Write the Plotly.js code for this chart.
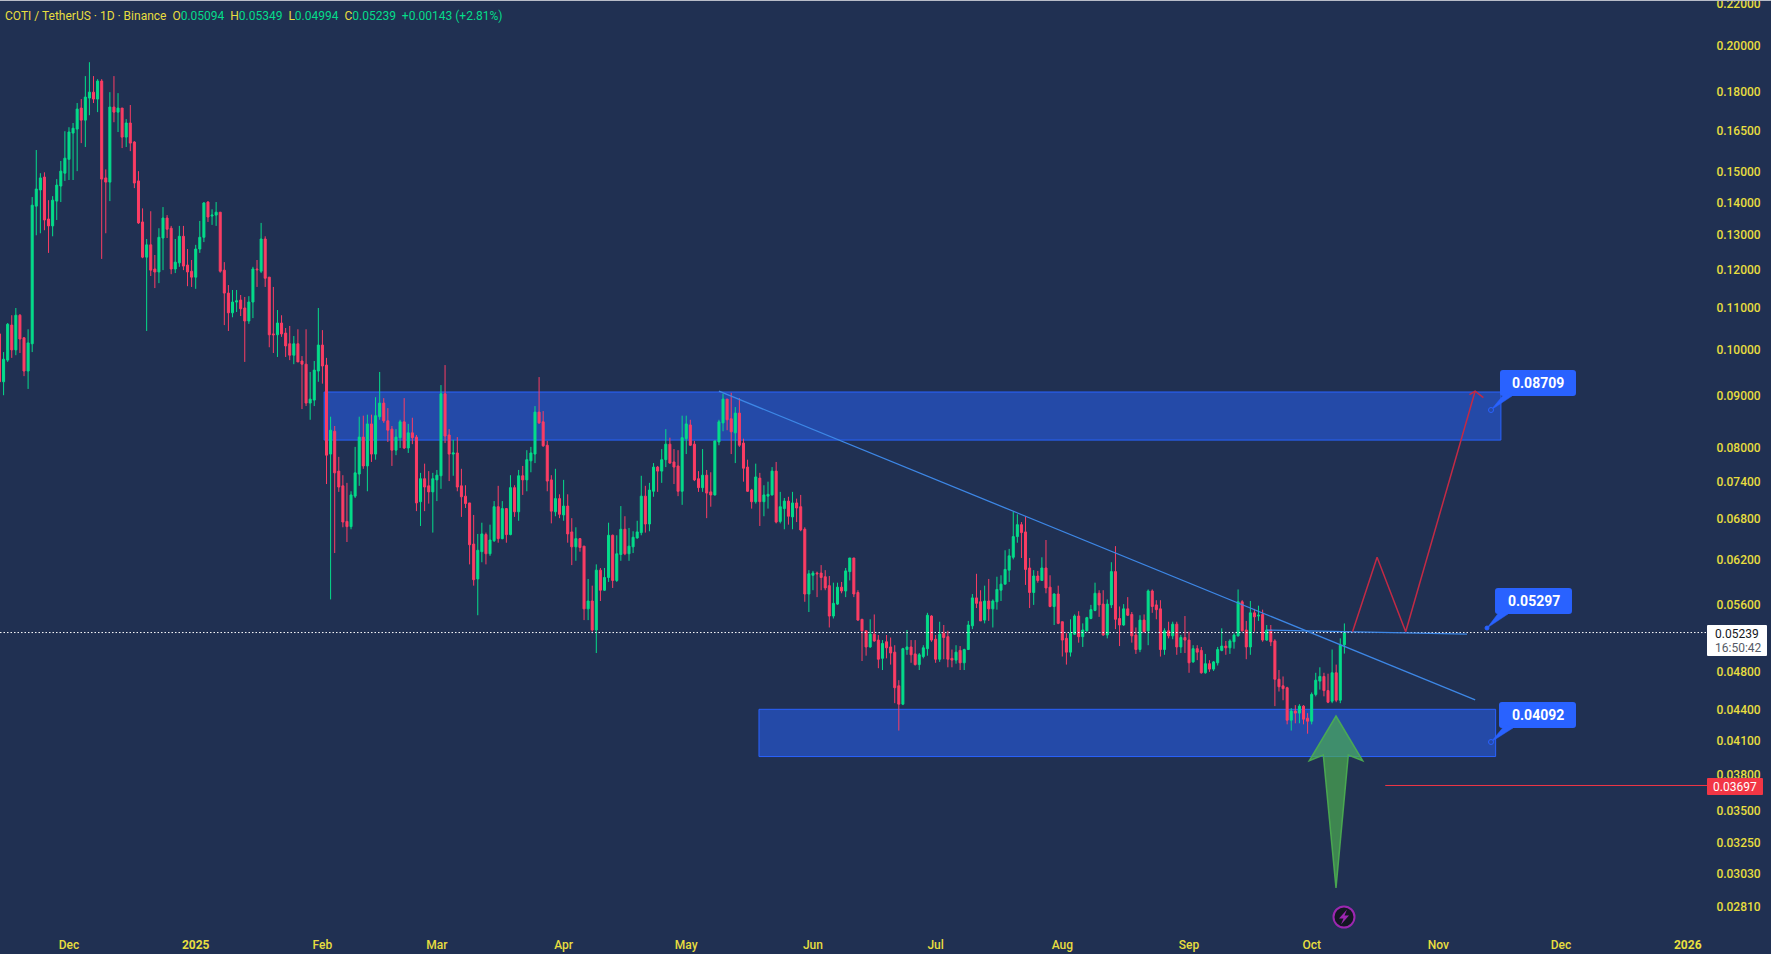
<!DOCTYPE html>
<html>
<head>
<meta charset="utf-8">
<title>COTI / TetherUS</title>
<script src="https://cdn.plot.ly/plotly-3.0.1.min.js"></script>
<style>
html, body { margin: 0; padding: 0; background: #203052; overflow: hidden; }
#graph { width: 1771px; height: 954px; }
</style>
</head>
<body>
<div id="graph"></div>
<script>
// daily candles, first one is 14 Nov 2024
var firstDay = Date.UTC(2024, 10, 14);

var opens = [
.1035,.0928,.0975,.1056,.0998,.1080,.1026,.0951,.1012,.1385,
.1437,.1480,.1345,.1324,.1401,.1450,.1493,.1541,.1636,.1651,
.1732,.1685,.1772,.1796,.1768,.1842,.1477,.1463,.1736,.1716,
.1732,.1621,.1674,.1603,.1467,.1336,.1233,.1268,.1200,.1192,
.1288,.1348,.1317,.1200,.1217,.1293,.1211,.1194,.1178,.1256,
.1290,.1398,.1354,.1357,.1366,.1197,.1136,.1086,.1113,.1118,
.1098,.1066,.1113,.1200,.1194,.1285,.1178,.1035,.1033,.1061,
.1037,.1012,.0986,.1012,.0973,.0966,.0884,.0890,.0951,.1009,
.0964,.0787,.0829,.0757,.0732,.0675,.0667,.0715,.0752,.0818,
.0766,.0843,.0787,.0857,.0884,.0849,.0833,.0794,.0817,.0847,
.0798,.0826,.0818,.0706,.0744,.0732,.0722,.0742,.0749,.0903,
.0822,.0787,.0789,.0732,.0715,.0704,.0641,.0592,.0630,.0655,
.0627,.0646,.0698,.0649,.0695,.0655,.0729,.0690,.0749,.0742,
.0775,.0787,.0866,.0847,.0803,.0742,.0690,.0711,.0685,.0699,
.0659,.0637,.0649,.0638,.0553,.0563,.0527,.0604,.0577,.0594,
.0654,.0590,.0626,.0663,.0627,.0637,.0650,.0658,.0715,.0671,
.0723,.0764,.0757,.0777,.0805,.0773,.0766,.0723,.0815,.0841,
.0805,.0744,.0729,.0750,.0722,.0717,.0809,.0845,.0892,.0853,
.0826,.0864,.0807,.0764,.0725,.0706,.0745,.0706,.0715,.0717,
.0757,.0675,.0695,.0707,.0682,.0704,.0698,.0663,.0572,.0597,
.0600,.0600,.0595,.0583,.0544,.0559,.0581,.0576,.0602,.0621,
.0574,.0540,.0526,.0507,.0522,.0515,.0494,.0513,.0507,.0501,
.0464,.0445,.0504,.0507,.0499,.0487,.0496,.0505,.0544,.0516,
.0493,.0523,.0519,.0494,.0492,.0503,.0489,.0504,.0532,.0567,
.0562,.0539,.0563,.0553,.0562,.0577,.0585,.0604,.0622,.0652,
.0670,.0659,.0607,.0574,.0596,.0590,.0607,.0581,.0556,.0572,
.0537,.0517,.0501,.0522,.0544,.0519,.0526,.0541,.0551,.0573,
.0559,.0521,.0558,.0602,.0541,.0533,.0553,.0546,.0521,.0504,
.0539,.0526,.0576,.0558,.0553,.0504,.0526,.0520,.0534,.0507,
.0518,.0515,.0490,.0505,.0503,.0478,.0488,.0482,.0489,.0503,
.0508,.0506,.0513,.0520,.0562,.0527,.0507,.0548,.0544,.0546,
.0515,.0527,.0514,.0471,.0464,.0462,.0429,.0438,.0436,.0443,
.0431,.0428,.0455,.0469,.0474,.0459,.0448,.0478,.0449,.05094];

var highs = [
.1044,.0993,.1061,.1080,.1098,.1083,.1026,.1046,.1414,.1574,
.1493,.1496,.1404,.1417,.1473,.1535,.1643,.1658,.1674,.1752,
.1768,.1863,.1923,.1863,.1850,.1850,.1506,.1796,.1863,.1792,
.1732,.1689,.1744,.1606,.1500,.1378,.1285,.1369,.1239,.1317,
.1382,.1357,.1324,.1285,.1324,.1324,.1256,.1225,.1268,.1339,
.1398,.1401,.1375,.1398,.1366,.1219,.1157,.1144,.1144,.1131,
.1126,.1128,.1206,.1225,.1333,.1293,.1178,.1152,.1093,.1080,
.1049,.1054,.1030,.1046,.0984,.1046,.0949,.0973,.1098,.1044,
.0980,.0857,.0839,.0782,.0750,.0737,.0723,.0800,.0857,.0859,
.0861,.0861,.0896,.0949,.0894,.0874,.0839,.0833,.0851,.0894,
.0843,.0855,.0822,.0754,.0770,.0757,.0754,.0759,.0921,.0964,
.0833,.0813,.0818,.0761,.0733,.0704,.0685,.0656,.0673,.0658,
.0670,.0707,.0732,.0707,.0696,.0750,.0733,.0759,.0766,.0794,
.0800,.0878,.0938,.0868,.0811,.0750,.0761,.0718,.0742,.0718,
.0680,.0666,.0650,.0638,.0592,.0583,.0612,.0607,.0607,.0673,
.0655,.0654,.0699,.0683,.0665,.0660,.0676,.0749,.0732,.0737,
.0771,.0766,.0796,.0833,.0817,.0796,.0794,.0859,.0859,.0851,
.0811,.0757,.0796,.0759,.0755,.0811,.0851,.0903,.0892,.0905,
.0876,.0894,.0815,.0777,.0727,.0770,.0754,.0733,.0739,.0764,
.0773,.0722,.0712,.0714,.0722,.0711,.0717,.0666,.0604,.0603,
.0602,.0611,.0604,.0596,.0587,.0587,.0588,.0607,.0621,.0621,
.0577,.0540,.0526,.0540,.0546,.0521,.0515,.0521,.0518,.0509,
.0470,.0506,.0527,.0515,.0515,.0500,.0509,.0548,.0545,.0521,
.0537,.0533,.0526,.0504,.0509,.0508,.0505,.0538,.0572,.0599,
.0577,.0583,.0592,.0565,.0595,.0597,.0632,.0634,.0690,.0686,
.0674,.0683,.0621,.0604,.0603,.0622,.0647,.0597,.0573,.0583,
.0537,.0523,.0540,.0546,.0550,.0535,.0543,.0558,.0587,.0577,
.0577,.0565,.0615,.0638,.0556,.0559,.0568,.0549,.0530,.0545,
.0546,.0578,.0578,.0564,.0564,.0529,.0537,.0537,.0537,.0521,
.0544,.0525,.0509,.0509,.0507,.0499,.0492,.0491,.0507,.0529,
.0514,.0516,.0523,.0578,.0564,.0538,.0563,.0553,.0557,.0552,
.0533,.0533,.0516,.0481,.0474,.0463,.0441,.0444,.0445,.0444,
.0436,.0457,.0478,.0484,.0478,.0477,.0504,.0487,.0517,.05349];

var lows = [
.0921,.0900,.0971,.0980,.0986,.0991,.0940,.0913,.0993,.1296,
.1302,.1311,.1245,.1293,.1342,.1398,.1467,.1470,.1470,.1500,
.1599,.1585,.1704,.1752,.1716,.1228,.1302,.1401,.1677,.1640,
.1581,.1585,.1570,.1443,.1330,.1230,.1042,.1181,.1149,.1162,
.1197,.1288,.1186,.1189,.1206,.1197,.1154,.1152,.1147,.1245,
.1276,.1336,.1327,.1324,.1190,.1056,.1042,.1075,.1088,.1078,
.0971,.1059,.1073,.1152,.1189,.1152,.1004,.0991,.0982,.1028,
.0982,.0975,.0966,.0971,.0872,.0878,.0851,.0878,.0928,.0924,
.0735,.0565,.0628,.0722,.0666,.0644,.0663,.0712,.0732,.0761,
.0723,.0773,.0777,.0851,.0845,.0809,.0766,.0785,.0798,.0796,
.0789,.0805,.0691,.0668,.0691,.0703,.0658,.0707,.0727,.0807,
.0740,.0749,.0723,.0682,.0696,.0612,.0583,.0545,.0615,.0612,
.0624,.0644,.0643,.0648,.0643,.0654,.0682,.0676,.0717,.0723,
.0755,.0771,.0843,.0800,.0723,.0672,.0683,.0680,.0676,.0643,
.0611,.0617,.0630,.0539,.0539,.0525,.0500,.0563,.0576,.0588,
.0580,.0588,.0617,.0625,.0617,.0628,.0649,.0654,.0658,.0660,
.0714,.0722,.0737,.0764,.0770,.0735,.0715,.0701,.0787,.0802,
.0740,.0722,.0722,.0680,.0698,.0716,.0803,.0829,.0831,.0787,
.0771,.0800,.0739,.0722,.0695,.0703,.0668,.0683,.0695,.0716,
.0672,.0672,.0663,.0670,.0663,.0674,.0660,.0562,.0549,.0577,
.0568,.0577,.0577,.0530,.0541,.0558,.0573,.0568,.0590,.0568,
.0538,.0491,.0497,.0506,.0513,.0483,.0481,.0494,.0487,.0446,
.0419,.0444,.0498,.0489,.0486,.0481,.0494,.0497,.0513,.0489,
.0490,.0493,.0484,.0484,.0488,.0481,.0481,.0504,.0528,.0554,
.0538,.0535,.0538,.0530,.0552,.0563,.0585,.0588,.0619,.0643,
.0621,.0584,.0554,.0558,.0587,.0590,.0573,.0555,.0533,.0534,
.0496,.0487,.0496,.0521,.0512,.0507,.0525,.0540,.0550,.0543,
.0520,.0517,.0554,.0528,.0508,.0532,.0544,.0512,.0499,.0501,
.0524,.0509,.0548,.0540,.0496,.0498,.0517,.0516,.0498,.0500,
.0500,.0478,.0489,.0492,.0477,.0477,.0479,.0480,.0486,.0502,
.0498,.0499,.0505,.0519,.0525,.0493,.0498,.0525,.0538,.0513,
.0514,.0508,.0443,.0458,.0449,.0425,.0419,.0426,.0426,.0425,
.0416,.0425,.0453,.0460,.0453,.0446,.0446,.0447,.0446,.04994];

var closes = [
.0928,.0977,.1058,.0998,.1080,.1023,.0951,.1014,.1388,.1440,
.1477,.1342,.1324,.1404,.1453,.1500,.1545,.1640,.1654,.1728,
.1685,.1776,.1796,.1768,.1842,.1473,.1463,.1736,.1716,.1732,
.1621,.1674,.1599,.1460,.1333,.1233,.1268,.1197,.1192,.1290,
.1348,.1314,.1200,.1219,.1293,.1208,.1192,.1178,.1256,.1290,
.1395,.1351,.1357,.1366,.1194,.1136,.1086,.1113,.1116,.1096,
.1066,.1113,.1200,.1198,.1285,.1175,.1033,.1033,.1061,.1035,
.1007,.0986,.1012,.0971,.0966,.0884,.0892,.0953,.1009,.0962,
.0785,.0831,.0754,.0730,.0674,.0667,.0717,.0754,.0818,.0766,
.0843,.0787,.0859,.0884,.0849,.0831,.0794,.0818,.0847,.0798,
.0826,.0817,.0704,.0744,.0730,.0722,.0744,.0750,.0903,.0820,
.0787,.0789,.0730,.0714,.0703,.0640,.0591,.0632,.0656,.0627,
.0647,.0698,.0649,.0695,.0655,.0729,.0690,.0749,.0742,.0777,
.0789,.0866,.0845,.0802,.0740,.0691,.0711,.0686,.0699,.0656,
.0637,.0649,.0636,.0553,.0563,.0527,.0604,.0577,.0594,.0654,
.0590,.0627,.0663,.0627,.0638,.0651,.0659,.0715,.0671,.0725,
.0764,.0757,.0777,.0805,.0771,.0764,.0723,.0817,.0843,.0803,
.0742,.0729,.0750,.0720,.0717,.0811,.0847,.0892,.0851,.0828,
.0864,.0803,.0762,.0723,.0706,.0747,.0706,.0717,.0718,.0757,
.0674,.0698,.0707,.0683,.0704,.0696,.0662,.0572,.0599,.0600,
.0599,.0594,.0580,.0544,.0560,.0581,.0576,.0603,.0621,.0572,
.0539,.0526,.0507,.0522,.0514,.0493,.0511,.0506,.0500,.0462,
.0445,.0505,.0507,.0498,.0487,.0498,.0506,.0545,.0515,.0493,
.0522,.0518,.0493,.0492,.0501,.0489,.0504,.0533,.0567,.0560,
.0538,.0563,.0553,.0563,.0578,.0585,.0605,.0624,.0652,.0670,
.0658,.0605,.0574,.0596,.0590,.0607,.0580,.0556,.0572,.0535,
.0515,.0501,.0523,.0544,.0519,.0527,.0542,.0552,.0573,.0558,
.0521,.0559,.0602,.0540,.0533,.0553,.0545,.0520,.0504,.0539,
.0525,.0576,.0556,.0552,.0504,.0526,.0520,.0534,.0507,.0518,
.0515,.0489,.0505,.0501,.0478,.0488,.0482,.0490,.0504,.0508,
.0506,.0514,.0521,.0562,.0526,.0507,.0548,.0543,.0545,.0515,
.0527,.0513,.0471,.0463,.0461,.0429,.0438,.0436,.0443,.0430,
.0428,.0455,.0470,.0474,.0459,.0447,.0478,.0449,.0509,.05239];

// axis labels
var priceTicks = [0.22, 0.20, 0.18, 0.165, 0.15, 0.14, 0.13, 0.12, 0.11, 0.10, 0.09, 0.08, 0.074, 0.068, 0.062, 0.056, 0.048, 0.044, 0.041, 0.038, 0.035, 0.0325, 0.0303, 0.0281];
var dateTicks = ['2024-12-01', '2025-01-01', '2025-02-01', '2025-03-01', '2025-04-01', '2025-05-01', '2025-06-01', '2025-07-01', '2025-08-01', '2025-09-01', '2025-10-01', '2025-11-01', '2025-12-01', '2026-01-01'];
var dateLabels = ['Dec', '<b>2025</b>', 'Feb', 'Mar', 'Apr', 'May', 'Jun', 'Jul', 'Aug', 'Sep', 'Oct', 'Nov', 'Dec', '<b>2026</b>'];

// drawings on the chart
var lastPrice = 0.05239;
var stopPrice = 0.03697;
var trendDates = ['2025-05-09', '2025-11-10'];
var trendPrices = [0.09086, 0.04494];
var flatDates = ['2025-09-20', '2025-11-08'];
var flatPrices = [0.05268, 0.0522];
var pathDates = ['2025-10-11', '2025-10-17', '2025-10-24', '2025-11-10'];
var pathPrices = [0.05248, 0.0622, 0.05248, 0.09086];
var headDates = ['2025-11-08 14:00', '2025-11-10', '2025-11-12'];
var headPrices = [0.0901, 0.09086, 0.0895];
var upperZone = {x0: '2025-02-01 10:00', x1: '2025-11-16 07:00', top: 0.09066, bottom: 0.08125};
var lowerZone = {x0: '2025-05-18 19:00', x1: '2025-11-15', top: 0.04398, bottom: 0.03949};
var rangeStart = '2024-11-14 03:00';
var rangeEnd = '2026-01-05 17:00';

var bgColor = '#203052';
var upColor = '#05DC8A';
var downColor = '#FB3D64';
var yellow = '#E8DE3F';
var blue = '#2962FF';

var dates = opens.map(function(v, i) {
    return new Date(firstDay + i * 86400000).toISOString().slice(0, 10);
});

// plot area is 1707 x 925 px, helpers go from page pixels to paper fractions
var plotW = 1707;
var plotH = 925;
function px(x) { return x / plotW; }
function py(y) { return 1 - y / plotH; }

// closed polygon in page pixels
function polygon(points) {
    return points.map(function(p, i) {
        return (i === 0 ? 'M' : 'L') + px(p[0]).toFixed(5) + ',' + py(p[1]).toFixed(5);
    }).join(' ') + ' Z';
}

// rounded rectangle in page pixels
function rounded(x0, y0, x1, y1, r) {
    function pt(x, y) { return px(x).toFixed(5) + ',' + py(y).toFixed(5); }
    return 'M' + pt(x0 + r, y0) + ' L' + pt(x1 - r, y0) + ' Q' + pt(x1, y0) + ' ' + pt(x1, y0 + r) +
        ' L' + pt(x1, y1 - r) + ' Q' + pt(x1, y1) + ' ' + pt(x1 - r, y1) +
        ' L' + pt(x0 + r, y1) + ' Q' + pt(x0, y1) + ' ' + pt(x0, y1 - r) +
        ' L' + pt(x0, y0 + r) + ' Q' + pt(x0, y0) + ' ' + pt(x0 + r, y0) + ' Z';
}

function pathShape(path, fill, lineColor, lineWidth) {
    return {type: 'path', xref: 'paper', yref: 'paper', path: path, fillcolor: fill, layer: 'above',
        line: {color: lineColor, width: lineWidth}};
}

function dotShape(x, y, r, fill, lineColor, lineWidth) {
    return {type: 'circle', xref: 'paper', yref: 'paper', x0: px(x - r), x1: px(x + r), y0: py(y + r), y1: py(y - r),
        fillcolor: fill, layer: 'above', line: {color: lineColor, width: lineWidth || 1}};
}

function zoneShape(z) {
    return {type: 'rect', xref: 'x', yref: 'y', x0: z.x0, x1: z.x1, y0: z.bottom, y1: z.top, layer: 'below',
        fillcolor: '#244AA8', line: {color: blue, width: 1}};
}

function textNote(text, x, y, size, color, anchor) {
    return {xref: 'paper', yref: 'paper', x: px(x), y: py(y), text: text, showarrow: false,
        xanchor: anchor || 'center', yanchor: 'middle', borderpad: 0,
        font: {family: 'Roboto, sans-serif', size: size, color: color}};
}

var shapes = [
    zoneShape(upperZone),
    zoneShape(lowerZone),
    // thin light edge along the top of the screenshot
    {type: 'line', xref: 'paper', yref: 'paper', x0: 0, x1: 1771 / plotW, y0: py(0.5), y1: py(0.5), line: {color: '#B8BCC8', width: 1}},
    // green arrow
    pathShape(polygon([[1336, 716], [1362.7, 760.7], [1348.3, 755], [1336, 888], [1323.3, 755], [1309.3, 760.7]]), 'rgba(76,175,80,0.68)', 'rgba(76,175,80,0.9)', 1.5),
    // callouts
    pathShape(rounded(1500, 370, 1576, 396, 3), blue, blue, 0),
    pathShape(polygon([[1491, 410], [1505, 393], [1512, 396]]), blue, blue, 0.5),
    dotShape(1491, 410, 2.5, '#244AA8', blue),
    pathShape(rounded(1495, 588, 1572, 614, 3), blue, blue, 0),
    pathShape(polygon([[1487, 628], [1500, 611], [1508, 614]]), blue, blue, 0.5),
    dotShape(1487, 628, 2, blue, blue),
    pathShape(rounded(1499, 702, 1576, 728, 3), blue, blue, 0),
    pathShape(polygon([[1491, 742], [1505, 725], [1513, 728]]), blue, blue, 0.5),
    dotShape(1491, 742, 2.5, '#244AA8', blue),
    // price tags on the axis
    pathShape(rounded(1707, 625, 1767, 656, 1), '#FFFFFF', '#FFFFFF', 0),
    pathShape(rounded(1707, 778, 1763, 795, 1), '#F23645', '#F23645', 0),
    // lightning mark
    dotShape(1344, 917, 10.5, '#131722', '#9C27B0', 2),
    pathShape(polygon([[1347, 909.5], [1339, 918.5], [1343.5, 918.5], [1341, 924.5], [1349, 915.5], [1344.5, 915.5]]), '#9C27B0', '#9C27B0', 0)
];

var header = '<span style="color:' + yellow + '">COTI / TetherUS · 1D · Binance  O</span>0.05094  ' +
    '<span style="color:' + yellow + '">H</span>0.05349  ' +
    '<span style="color:' + yellow + '">L</span>0.04994  ' +
    '<span style="color:' + yellow + '">C</span>0.05239  +0.00143 (+2.81%)';

var annotations = [
    textNote(header, 4, 16, 12, upColor, 'left'),
    textNote('<b>0.08709</b>', 1538, 382.5, 14, '#FFFFFF'),
    textNote('<b>0.05297</b>', 1533.5, 600.5, 14, '#FFFFFF'),
    textNote('<b>0.04092</b>', 1537.5, 714.5, 14, '#FFFFFF'),
    textNote('0.05239', 1737, 633.5, 12, '#131722'),
    textNote('16:50:42', 1738, 648, 12, '#555A66'),
    textNote('0.03697', 1735, 786.5, 12, '#FFFFFF')
];

var candles = {
    type: 'candlestick',
    x: dates,
    open: opens,
    high: highs,
    low: lows,
    close: closes,
    whiskerwidth: 0,
    increasing: {line: {color: upColor, width: 1}, fillcolor: upColor},
    decreasing: {line: {color: downColor, width: 1}, fillcolor: downColor},
    hoverinfo: 'skip'
};

function lineTrace(x, y, color, width, dash) {
    return {type: 'scatter', mode: 'lines', x: x, y: y, hoverinfo: 'skip',
        line: {color: color, width: width, dash: dash || 'solid'}};
}

var data = [
    candles,
    lineTrace([rangeStart, rangeEnd], [lastPrice, lastPrice], '#FFFFFF', 1, '1.5px,2px'),
    lineTrace(trendDates, trendPrices, '#3D87E6', 1.3),
    lineTrace(flatDates, flatPrices, '#3D87E6', 1.3),
    lineTrace(pathDates, pathPrices, '#C22A45', 1.5),
    lineTrace(headDates, headPrices, '#C22A45', 1.5),
    lineTrace(['2025-10-19', rangeEnd], [stopPrice, stopPrice], '#F23645', 1)
];

var layout = {
    width: 1771,
    height: 954,
    margin: {l: 0, r: 64, t: 0, b: 29, pad: 0},
    paper_bgcolor: bgColor,
    plot_bgcolor: bgColor,
    showlegend: false,
    hovermode: false,
    dragmode: false,
    boxgap: 0.3,
    xaxis: {
        type: 'date',
        range: [rangeStart, rangeEnd],
        rangeslider: {visible: false},
        tickmode: 'array',
        tickvals: dateTicks,
        ticktext: dateLabels,
        showgrid: false,
        zeroline: false,
        showline: false,
        ticks: 'outside',
        ticklen: 9,
        tickcolor: 'rgba(0,0,0,0)',
        tickfont: {family: 'Roboto, sans-serif', size: 12, color: yellow, weight: 500}
    },
    yaxis: {
        type: 'log',
        side: 'right',
        range: [-1.5703, -0.65445],
        tickmode: 'array',
        tickvals: priceTicks,
        ticktext: priceTicks.map(function(v) { return v.toFixed(5); }),
        ticklabeloverflow: 'allow',
        ticklabelshift: 1,
        showgrid: false,
        zeroline: false,
        showline: false,
        ticks: 'outside',
        ticklen: 6,
        tickcolor: 'rgba(0,0,0,0)',
        tickfont: {family: 'Roboto, sans-serif', size: 12, color: yellow, weight: 500}
    },
    shapes: shapes,
    annotations: annotations
};

Plotly.newPlot('graph', data, layout, {displayModeBar: false, staticPlot: true});
</script>
</body>
</html>
